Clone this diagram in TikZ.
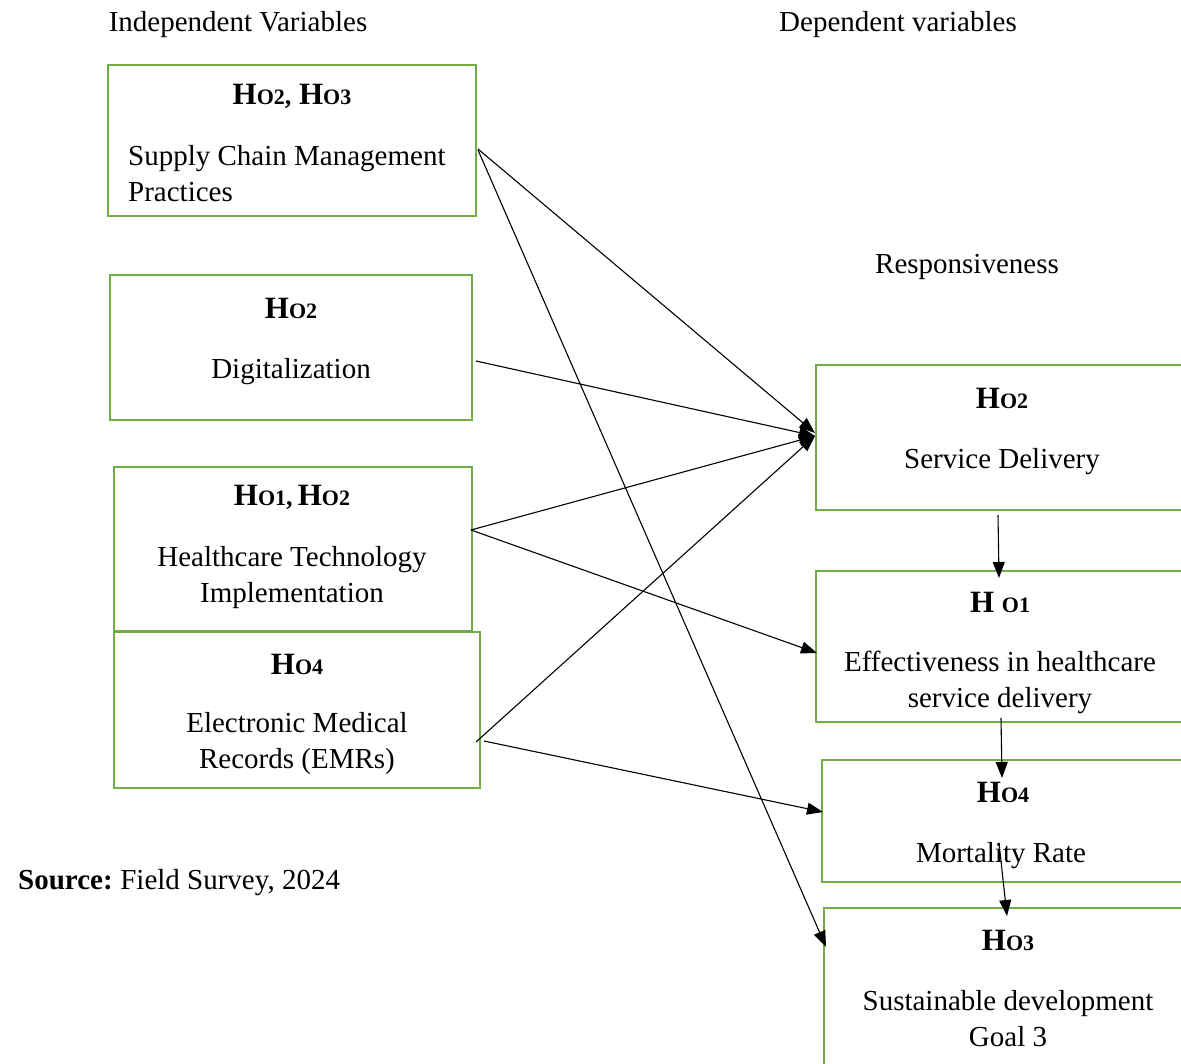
\documentclass[tikz,border=0pt]{standalone}
\usepackage{fontspec}
\setmainfont{Liberation Serif}
\usetikzlibrary{arrows.meta}
\definecolor{boxgreen}{HTML}{70AD47}
\newcommand{\hyp}[1]{H{\fontsize{22}{22}\selectfont O#1}}
\tikzset{
  box/.style={draw=boxgreen, line width=2.8pt, inner sep=0pt},
  txt/.style={font=\fontsize{29}{36}\selectfont, align=center, inner sep=0pt},
  hd/.style={font=\fontsize{31}{36}\selectfont\bfseries, inner sep=0pt},
  arr/.style={draw=black, line width=1.1pt, -{Triangle[length=16pt,width=12pt]}}
}
\begin{document}
\begin{tikzpicture}[x=1pt,y=-1pt]
\useasboundingbox (0,0) rectangle (1181,1064);
\clip (0,0) rectangle (1181,1064);
\fill[white] (0,0) rectangle (1181,1064);
% headers
\node[txt] (hindep) at (238,25) {Independent Variables};
\node[txt] (hdep) at (898,25) {Dependent variables};
\node[txt] (hresp) at (967,267) {Responsiveness};
\node[txt, anchor=west] (src) at (18,883) {\textbf{Source:}\hspace{-2pt} Field Survey, 2024};
% boxes
\node[box, minimum width=368pt, minimum height=151pt] (scm) at (292,140.5) {};
\node[box, minimum width=362pt, minimum height=145pt] (dig) at (291,347.5) {};
\node[box, minimum width=358pt, minimum height=164pt] (hti) at (293,549) {};
\node[box, minimum width=366pt, minimum height=156pt] (emr) at (297,710) {};
\node[box, minimum width=384pt, minimum height=145pt] (sd) at (1008,437.5) {};
\node[box, minimum width=384pt, minimum height=151pt] (eff) at (1008,646.5) {};
\node[box, minimum width=378pt, minimum height=122pt] (mort) at (1011,821) {};
\node[box, minimum width=376pt, minimum height=172pt] (sdg) at (1012,994) {};
% box texts
\node[hd] (scmh) at (292,96) {\hyp{2}{\fontsize{26}{26}\selectfont,} \hyp{3}};
\node[txt, anchor=west, align=left] (scmt) at (128,174) {Supply Chain Management\\Practices};
\node[hd] (digh) at (291,308) {\hyp{2}};
\node[txt] (digt) at (291,372) {Digitalization};
\node[hd] (htih) at (292,497) {\hyp{1}{\fontsize{26}{26}\selectfont,}\,\hyp{2}};
\node[txt] (htit) at (292,578) {Healthcare Technology\\Implementation};
\node[hd] (emrh) at (297,664) {\hyp{4}};
\node[txt] (emrt) at (297,744) {Electronic Medical\\Records (EMRs)};
\node[hd] (sdh) at (1002,398) {\hyp{2}};
\node[txt] (sdt) at (1002,462) {Service Delivery};
\node[hd] (effh) at (1000,602) {H {\fontsize{22}{22}\selectfont O1}};
\node[txt] (efft) at (1000,682) {Effectiveness in healthcare\\service delivery};
\node[hd] (morth) at (1003,792) {\hyp{4}};
\node[txt] (mortt) at (1001,856) {Mortality Rate};
\node[hd] (sdgh) at (1008,940) {\hyp{3}};
\node[txt] (sdgt) at (1008,1019) {Sustainable development\\Goal 3};
% connector end points
\coordinate (scmA) at (478,149);
\coordinate (scmB) at (478,150);
\coordinate (digA) at (476,361);
\coordinate (htiA) at (471,530);
\coordinate (emrA) at (476,742);
\coordinate (emrB) at (484,741);
\coordinate (sdIn1) at (815,433);
\coordinate (sdIn2) at (815,436);
\coordinate (sdgIn) at (826,947);
\coordinate (effIn) at (817,653);
\coordinate (mortIn) at (823,812);
\coordinate (sdOut) at (998,515);
\coordinate (effTop) at (999,578);
\coordinate (effOut) at (1001,718);
\coordinate (mortTop) at (1002,778);
\coordinate (mortOut) at (999,843);
\coordinate (sdgTop) at (1007,916);
% connectors
\draw[arr] (scmA) -- (sdIn1);
\draw[arr] (scmB) -- (sdgIn);
\draw[arr] (digA) -- (sdIn2);
\draw[arr] (htiA) -- (sdIn2);
\draw[arr] (htiA) -- (effIn);
\draw[arr] (emrA) -- (sdIn2);
\draw[arr] (emrB) -- (mortIn);
\draw[arr] (sdOut) -- (effTop);
\draw[arr] (effOut) -- (mortTop);
\draw[arr] (mortOut) -- (sdgTop);
\end{tikzpicture}
\end{document}
